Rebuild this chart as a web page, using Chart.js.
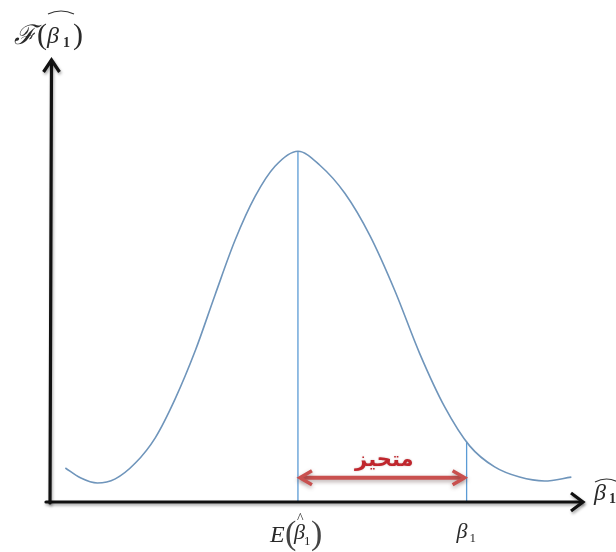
<!DOCTYPE html>
<html>
<head>
<meta charset="utf-8">
<script src="https://cdn.jsdelivr.net/npm/chart.js@4/dist/chart.umd.min.js"></script>
<style>
  html, body { margin: 0; padding: 0; background: #ffffff; }
  #wrap { width: 616px; height: 552px; }
</style>
</head>
<body>
<div id="wrap"><canvas id="c" width="616" height="552"></canvas></div>
<script>
// Sampling distribution of the estimator (x in units of the bias, y normalised to the peak)
const curveX = [-1.379, -1.290, -1.189, -1.083, -0.964, -0.846, -0.728, -0.609, -0.491, -0.373, -0.254,
                -0.136, 0.000, 0.130, 0.278, 0.426, 0.574, 0.722, 0.870, 1.018, 1.166, 1.314, 1.462, 1.621];
const curveY = [0.097, 0.069, 0.054, 0.066, 0.111, 0.183, 0.294, 0.431, 0.591, 0.746, 0.871,
                0.957, 1.000, 0.960, 0.880, 0.760, 0.603, 0.423, 0.271, 0.160, 0.100, 0.071, 0.060, 0.071];

// Expected value of the estimator and the true parameter
const markerX = [0, 1];
const markerTop = [1.000, 0.172];
const biasLevel = 0.069;

// Texts
const biasText = 'متحيز';
const yAxisName = ['ℱ', '(', 'β', '1', ')'];
const xAxisName = ['β', '1'];
const tickLabels = [['E', '(', 'β', '1', ')'], ['β', '1']];

const points = curveX.map((x, i) => ({ x: x, y: curveY[i] }));

const SERIF = '"Liberation Serif", "DejaVu Serif", serif';

function widehat(ctx, x1, x2, y, h) {
  ctx.save();
  ctx.beginPath();
  ctx.moveTo(x1, y);
  ctx.quadraticCurveTo((x1 + x2) / 2, y - h * 2, x2, y);
  ctx.lineWidth = 1.2;
  ctx.strokeStyle = '#333';
  ctx.stroke();
  ctx.restore();
}

function chevron(ctx, tipX, tipY, dx, dy, len, spread) {
  // open arrow head pointing in direction (dx, dy)
  const px = -dy, py = dx;
  ctx.beginPath();
  ctx.moveTo(tipX - dx * len + px * spread, tipY - dy * len + py * spread);
  ctx.lineTo(tipX, tipY);
  ctx.lineTo(tipX - dx * len - px * spread, tipY - dy * len - py * spread);
  ctx.stroke();
}

const decorations = {
  id: 'decorations',
  afterDatasetsDraw(chart) {
    const ctx = chart.ctx;
    const a = chart.chartArea;
    const xs = chart.scales.x, ys = chart.scales.y;

    // Axes with arrow heads
    ctx.save();
    ctx.strokeStyle = '#111';
    ctx.lineWidth = 3.2;
    ctx.lineCap = 'round';
    ctx.lineJoin = 'miter';
    ctx.shadowColor = 'rgba(0,0,0,0.35)';
    ctx.shadowBlur = 3;
    ctx.shadowOffsetX = 1;
    ctx.shadowOffsetY = 2;
    ctx.beginPath();
    ctx.moveTo(a.left - 4, a.bottom);
    ctx.lineTo(a.right - 1, a.bottom);
    ctx.stroke();
    ctx.beginPath();
    ctx.moveTo(a.left, a.bottom + 1);
    ctx.lineTo(a.left + 1.5, a.top + 1);
    ctx.stroke();
    ctx.lineCap = 'butt';
    chevron(ctx, a.right, a.bottom, 1, 0, 12, 9);
    chevron(ctx, a.left + 1.5, a.top, 0, -1, 12, 8);
    ctx.restore();

    // Bias arrow between E(b) and b
    const x0 = xs.getPixelForValue(markerX[0]);
    const x1 = xs.getPixelForValue(markerX[1]);
    const yb = ys.getPixelForValue(biasLevel);
    ctx.save();
    ctx.strokeStyle = '#c9504f';
    ctx.lineWidth = 4;
    ctx.shadowColor = 'rgba(90,60,60,0.45)';
    ctx.shadowBlur = 4;
    ctx.shadowOffsetY = 2;
    ctx.beginPath();
    ctx.moveTo(x0 + 3, yb);
    ctx.lineTo(x1 - 3, yb);
    ctx.stroke();
    ctx.lineWidth = 3.5;
    chevron(ctx, x0 + 2, yb, -1, 0, 12, 7);
    chevron(ctx, x1 - 2, yb, 1, 0, 12, 7);
    ctx.restore();

    ctx.save();
    ctx.fillStyle = '#c0262d';
    ctx.font = 'bold 21px "DejaVu Sans", sans-serif';
    ctx.textAlign = 'center';
    ctx.textBaseline = 'alphabetic';
    ctx.shadowColor = 'rgba(120,60,60,0.35)';
    ctx.shadowBlur = 2;
    ctx.fillText(biasText, (x0 + x1) / 2 + 2, yb - 12);
    ctx.restore();

    ctx.save();
    ctx.fillStyle = '#2a2a2a';
    ctx.textBaseline = 'alphabetic';
    ctx.textAlign = 'left';

    // y-axis name: F(b^1)
    let bx = 14, by = 44;
    ctx.font = 'italic 27px ' + SERIF;
    ctx.fillText(yAxisName[0], bx, by);
    ctx.font = '30px ' + SERIF;
    ctx.fillText(yAxisName[1], bx + 23, by);
    ctx.font = 'italic 24px ' + SERIF;
    ctx.fillText(yAxisName[2], bx + 33, by - 1);
    ctx.font = 'bold 14px ' + SERIF;
    ctx.fillText(yAxisName[3], bx + 49, by + 3);
    ctx.font = '30px ' + SERIF;
    ctx.fillText(yAxisName[4], bx + 59, by);
    widehat(ctx, bx + 34, bx + 60, by - 30, 3);

    // x-axis name: b^1
    bx = 594; by = 500;
    ctx.font = 'italic 24px ' + SERIF;
    ctx.fillText(xAxisName[0], bx, by);
    ctx.font = 'bold 14px ' + SERIF;
    ctx.fillText(xAxisName[1], bx + 15, by + 3);
    widehat(ctx, bx + 1, bx + 24, by - 18, 3);

    // label under E(b)
    let cx = x0;
    by = 542;
    ctx.font = 'italic 24px ' + SERIF;
    ctx.fillText(tickLabels[0][0], cx - 28, by);
    ctx.save();
    ctx.font = '34px ' + SERIF;
    ctx.fillStyle = '#444';
    ctx.fillText(tickLabels[0][1], cx - 13, by + 2);
    ctx.fillText(tickLabels[0][4], cx + 13, by + 2);
    ctx.restore();
    ctx.font = 'italic 22px ' + SERIF;
    ctx.fillText(tickLabels[0][2], cx - 4, by - 3);
    ctx.font = '13px ' + SERIF;
    ctx.fillText(tickLabels[0][3], cx + 6, by + 3);
    ctx.font = '14px ' + SERIF;
    ctx.fillText('^', cx - 1, by - 19);

    // label under b
    cx = x1;
    ctx.font = 'italic 22px ' + SERIF;
    ctx.fillText(tickLabels[1][0], cx - 10, by - 4);
    ctx.font = '13px ' + SERIF;
    ctx.fillText(tickLabels[1][1], cx + 3, by);
    ctx.restore();
  }
};

new Chart(document.getElementById('c'), {
  type: 'scatter',
  data: {
    datasets: [
      {
        data: points,
        showLine: true,
        cubicInterpolationMode: 'monotone',
        borderColor: '#6f95bb',
        borderWidth: 1.6,
        pointRadius: 0
      },
      {
        data: [{ x: markerX[0], y: 0 }, { x: markerX[0], y: markerTop[0] }],
        showLine: true,
        borderColor: '#5b9bd5',
        borderWidth: 1.3,
        pointRadius: 0
      },
      {
        data: [{ x: markerX[1], y: 0 }, { x: markerX[1], y: markerTop[1] }],
        showLine: true,
        borderColor: '#5b9bd5',
        borderWidth: 1.3,
        pointRadius: 0
      }
    ]
  },
  options: {
    responsive: false,
    animation: false,
    events: [],
    layout: { padding: { left: 50, top: 60, right: 33, bottom: 50 } },
    plugins: { legend: { display: false }, tooltip: { enabled: false } },
    scales: {
      x: { type: 'linear', display: false, min: -1.47, max: 1.69 },
      y: { type: 'linear', display: false, min: 0, max: 1.26 }
    }
  },
  plugins: [decorations]
});
</script>
</body>
</html>
